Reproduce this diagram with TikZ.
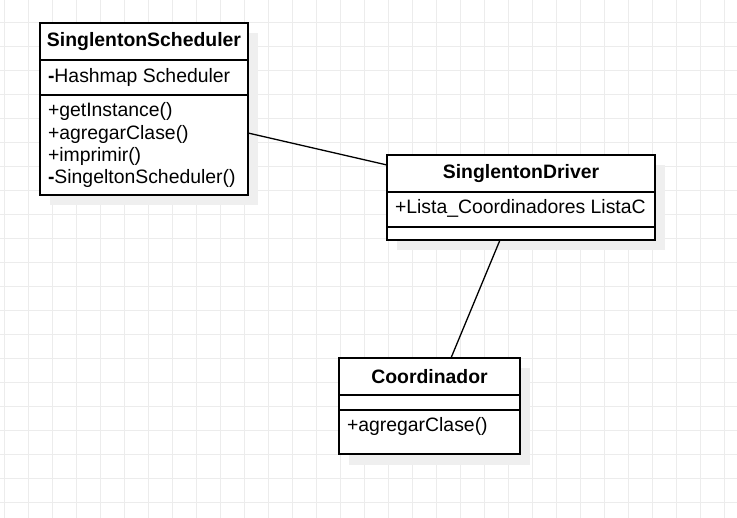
\documentclass[tikz,border=0pt]{standalone}
\usepackage{fontspec}
\setmainfont{Liberation Sans}
\usetikzlibrary{positioning}
\definecolor{gridgray}{RGB}{236,236,236}
\definecolor{shadegray}{RGB}{239,239,239}
\tikzset{
	every node/.style={outer sep=0pt, font=\fontsize{19.4}{22.4}\selectfont},
	classhead/.style={draw, line width=1.3pt, fill=white, minimum height=37pt,
		font=\fontsize{19.4}{22.4}\selectfont\bfseries},
	compart/.style={draw, line width=1.3pt, fill=white, inner sep=0pt},
	member/.style={anchor=base west, inner sep=0pt, xshift=8pt},
	assoc/.style={line width=1.3pt},
	gridline/.style={draw=gridgray, line width=1pt}}

\begin{document}
\begin{tikzpicture}[x=1pt, y=-1pt]

	\fill[white] (0,0) rectangle (737,518);
	\useasboundingbox (0,0) rectangle (737,518);
	\foreach \gx in {4,28,...,724}
		\draw[gridline] (\gx,0) -- (\gx,518);
	\foreach \gy in {23,47,...,503}
		\draw[gridline] (0,\gy) -- (737,\gy);

	\fill[shadegray] (50,33) rectangle (258,205);
	\fill[shadegray] (397,165) rectangle (665,250);
	\fill[shadegray] (349,368) rectangle (530,465);

	\node[classhead, minimum width=208pt] (schedhead) at (144,41.5) {SinglentonScheduler};
	\node[compart, minimum width=208pt, minimum height=35pt, below=0pt of schedhead] (schedattr) {};
	\node[compart, minimum width=208pt, minimum height=100pt, below=0pt of schedattr] (schedops) {};
	\node[member] (schedattr1) at ([yshift=-23pt]schedattr.north west) {\textbf{-}Hashmap Scheduler};
	\foreach \op [count=\i] in {+getInstance(), +agregarClase(), +imprimir(), \textbf{-}SingeltonScheduler()}
		\node[member] (schedop\i) at ([yshift={-22pt-(\i-1)*22.3pt}]schedops.north west) {\op};

	\node[classhead, minimum width=268pt] (drvhead) at (521,173.5) {SinglentonDriver};
	\node[compart, minimum width=268pt, minimum height=35pt, below=0pt of drvhead] (drvattr) {};
	\node[compart, minimum width=268pt, minimum height=13pt, below=0pt of drvattr] (drvops) {};
	\node[member] (drvattr1) at ([yshift=-22pt]drvattr.north west) {+Lista\_Coordinadores ListaC};

	\node[classhead, minimum width=181pt] (coordhead) at (429.5,376.5) {Coordinador};
	\node[compart, minimum width=181pt, minimum height=15pt, below=0pt of coordhead] (coordattr) {};
	\node[compart, minimum width=181pt, minimum height=44pt, below=0pt of coordattr] (coordops) {};
	\node[member] (coordop1) at ([yshift=-22pt]coordops.north west) {+agregarClase()};

	\draw[assoc] ([yshift=12pt]schedops.east) -- ([yshift=8.5pt]drvhead.west);
	\draw[assoc] ([xshift=-21pt]drvops.south) -- ([xshift=21.5pt]coordhead.north);

\end{tikzpicture}
\end{document}
